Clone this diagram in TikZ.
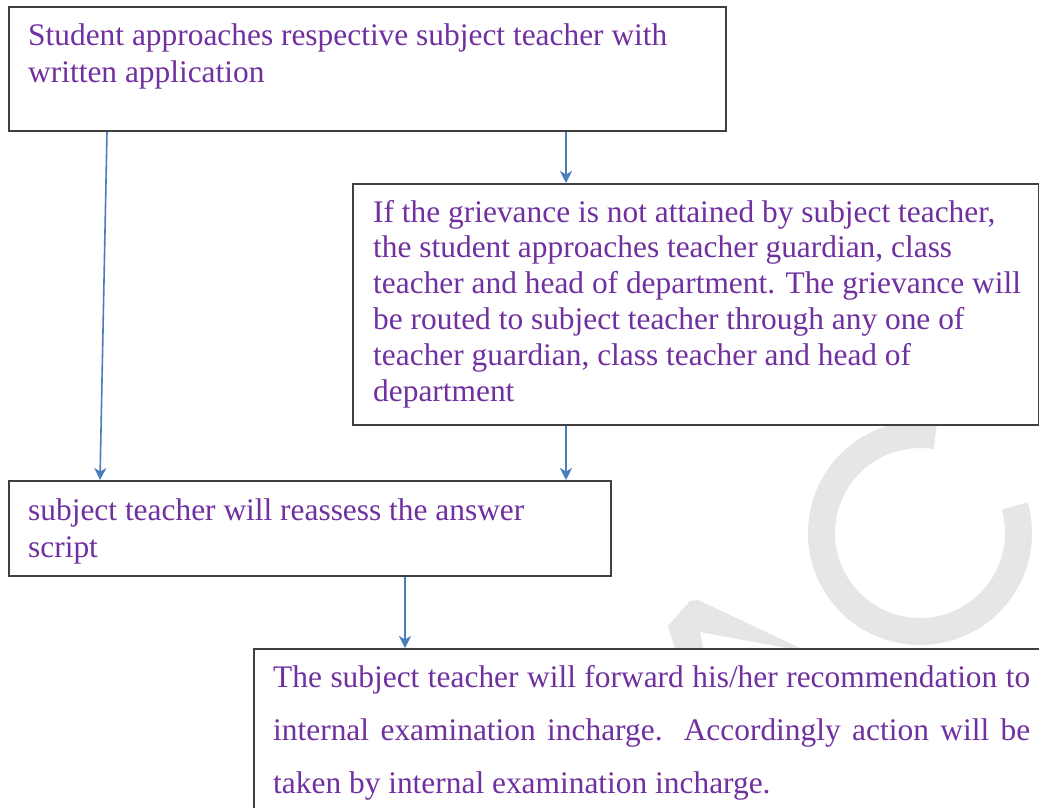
\documentclass[tikz,border=0pt]{standalone}
\usepackage{fontspec}
\setmainfont{Liberation Serif}
\usetikzlibrary{arrows.meta,calc}
\definecolor{txtcol}{HTML}{7030A0}
\definecolor{edgecol}{HTML}{404040}
\definecolor{arrcol}{HTML}{4A7EBB}
\definecolor{wmcol}{HTML}{E6E6E6}
\begin{document}
\begin{tikzpicture}[x=1pt,y=-1pt,
  box/.style={draw=edgecol, line width=1.8pt, fill=white, rectangle, inner sep=0pt, anchor=north west},
  label/.style={text=txtcol, inner sep=0pt, anchor=base west, align=left},
  link/.style={draw=arrcol, line width=1.6pt, -{Stealth[length=12pt,width=12pt,inset=3.5pt]}}]
\useasboundingbox (0,0) rectangle (1039,807);
\clip (0,0) rectangle (1039,807);
\fill[white] (0,0) rectangle (1039,807);
% watermark
\draw[wmcol, line width=27pt] (920,533) ++(-81:98.5) arc[start angle=-81, end angle=-376, radius=98.5];
\fill[wmcol] (668,626) -- (690,601) -- (698,600) -- (800,648) -- (787,648) -- (700,632) -- (703,648) -- (675,648) -- cycle;
% boxes
\node[box, minimum width=717pt, minimum height=124pt] (b1) at (8,6) {};
\node[box, minimum width=686pt, minimum height=241pt] (b2) at (352,183) {};
\node[box, minimum width=602pt, minimum height=95pt] (b3) at (8,480) {};
\node[box, minimum width=807pt, minimum height=182pt] (b4) at (253,648) {};
% texts (anchored at the baseline of their last line)
\node[label, font=\fontsize{31.4}{37}\selectfont] (t1) at (28,82)
  {Student approaches respective subject teacher with\\written application};
\node[label, font=\fontsize{31.4}{35.8}\selectfont] (t2) at (373,401)
  {If the grievance is not attained by subject teacher,\\
   the student approaches teacher guardian, class\\
   teacher and head of department. The grievance will\\
   be routed to subject teacher through any one of\\
   teacher guardian, class teacher and head of\\
   department};
\node[label, font=\fontsize{31.4}{37}\selectfont] (t3) at (28,557)
  {subject teacher will reassess the answer\\script};
\node[label, font=\fontsize{31.4}{53}\selectfont] (t4) at (273,793)
  {\makebox[757pt][s]{The subject teacher will forward his/her recommendation to}\\
   \makebox[757pt][s]{internal examination incharge. Accordingly action will be}\\
   taken by internal examination incharge.};
% connectors
\draw[link] ($(b1.south west)+(99,0)$) -- ($(b3.north west)+(92,0)$);
\draw[link] ($(b1.south west)+(558,0)$) -- ($(b2.north west)+(214,0)$);
\draw[link] ($(b2.south west)+(214,0)$) -- ($(b3.north west)+(558,0)$);
\draw[link] ($(b3.south west)+(397,0)$) -- ($(b4.north west)+(152,0)$);
\end{tikzpicture}
\end{document}
